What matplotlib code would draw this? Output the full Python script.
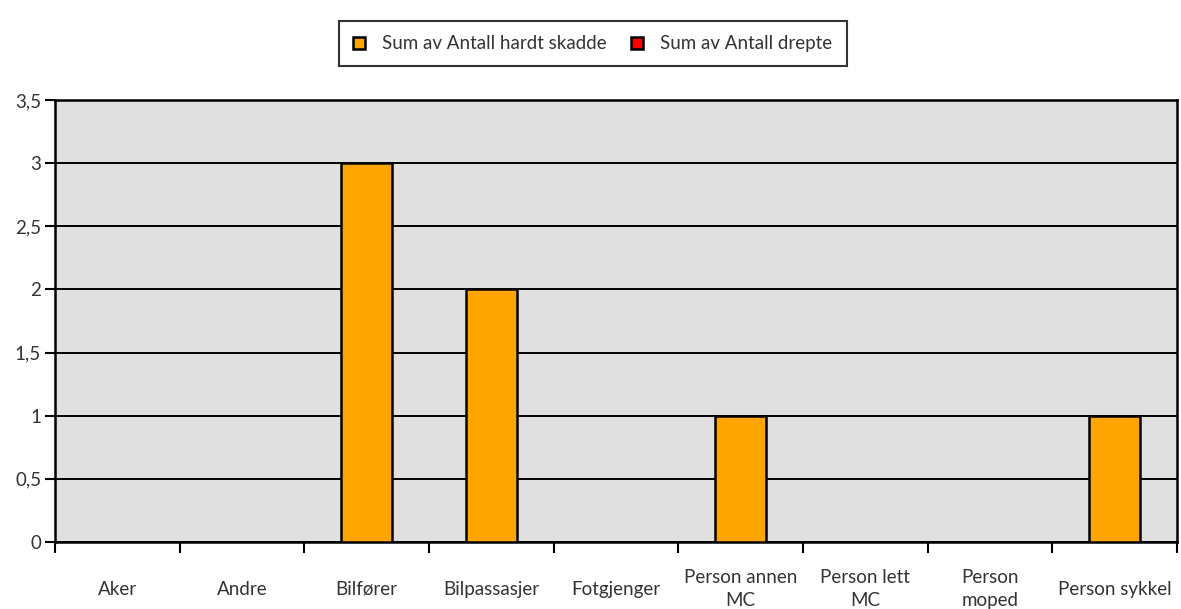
import numpy as np
import matplotlib.pyplot as plt
from matplotlib.patches import Patch

plt.rcParams['font.family'] = ['Lato', 'DejaVu Sans']

# data
categories = ['Aker', 'Andre', 'Bilfører', 'Bilpassasjer', 'Fotgjenger',
              'Person annen\nMC', 'Person lett\nMC', 'Person\nmoped', 'Person sykkel']
hardt_skadde = [0, 0, 3, 2, 0, 1, 0, 0, 1]
drepte = [0, 0, 0, 0, 0, 0, 0, 0, 0]
yticks = [0, 0.5, 1, 1.5, 2, 2.5, 3, 3.5]
ytick_labels = ['0', '0,5', '1', '1,5', '2', '2,5', '3', '3,5']

orange = '#FFA500'
red = '#FF0000'
txt = '#333333'
fs = 13.5

fig = plt.figure(figsize=(11.81, 6.09), dpi=100)
ax = fig.add_axes([0.0466, 0.110, 0.9500, 0.726])
ax.set_facecolor('#E0E0E0')

x = np.arange(len(categories))
ax.bar(x, hardt_skadde, width=0.41, color=orange, edgecolor='black', linewidth=1.8, zorder=3)

ax.set_xlim(-0.5, len(categories) - 0.5)
ax.set_ylim(0, 3.5)

ax.set_yticks(yticks)
ax.set_yticklabels(ytick_labels, fontsize=fs, color=txt)
ax.grid(axis='y', color='black', linewidth=1.4, zorder=1)
ax.set_axisbelow(True)

ax.set_xticks(np.arange(len(categories) + 1) - 0.5)
ax.set_xticklabels([])
ax.set_xticks(x, minor=True)
ax.set_xticklabels(categories, minor=True, fontsize=fs, color=txt, linespacing=1.4)
ax.tick_params(axis='x', which='minor', length=0, pad=34)
for lab in ax.get_xticklabels(minor=True):
    lab.set_verticalalignment('center')
ax.tick_params(axis='x', which='major', length=8, width=1.5, color='black')
ax.tick_params(axis='y', length=7, width=1.5, color='black', pad=3)

for s in ax.spines.values():
    s.set_linewidth(1.8)
    s.set_color('black')

handles = [Patch(facecolor=orange, edgecolor='black', linewidth=1.8, label='Sum av Antall hardt skadde'),
           Patch(facecolor=red, edgecolor='black', linewidth=1.8, label='Sum av Antall drepte')]
leg = fig.legend(handles=handles, loc='center', bbox_to_anchor=(0.502, 0.928), ncol=2,
                 fancybox=False, frameon=True, edgecolor='black', fontsize=fs,
                 handlelength=0.65, handleheight=0.65, handletextpad=0.9, columnspacing=1.3,
                 borderpad=0.75, borderaxespad=0)
leg.get_frame().set_linewidth(1.5)
for t in leg.get_texts():
    t.set_color(txt)

fig.savefig('out.png', dpi=100)
